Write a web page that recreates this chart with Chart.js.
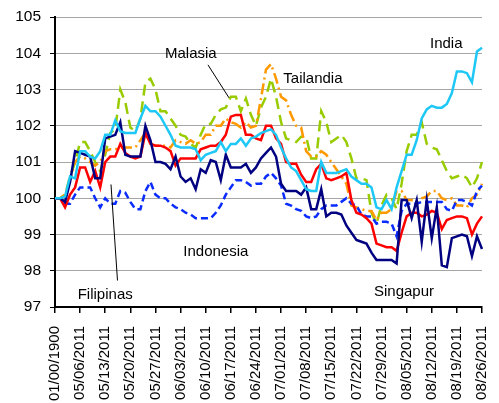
<!DOCTYPE html>
<html>
<head>
<meta charset="utf-8">
<script src="https://cdn.jsdelivr.net/npm/chart.js@4/dist/chart.umd.min.js"></script>
<style>
  html, body { margin: 0; padding: 0; background: #ffffff; }
  #wrap { width: 499px; height: 403px; }
</style>
</head>
<body>
<div id="wrap"><canvas id="chart" width="499" height="403"></canvas></div>
<script>
// Daily index levels (base = 100), business days 2 May – 26 Aug 2011,
// preceded by the base point.
const india = [100, 100, 100.05, 100.6, 100.55, 101.3, 101.3, 101.15, 101.1, 101.3,
  101.75, 101.75, 102.15, 101.85, 101.8, 101.8, 101.8, 102.2, 102.55, 102.4,
  102.4, 102.25, 102.0, 101.75, 101.45, 101.4, 101.4, 101.4, 101.35, 101.05,
  101.2, 101.25, 101.3, 101.55, 101.3, 101.5, 101.5, 101.65, 101.45, 101.65,
  101.7, 101.8, 101.85, 101.9, 101.75, 101.4, 101.1, 100.85, 100.75, 100.5,
  100.25, 100.2, 100.2, 101.0, 100.7, 100.7, 100.7, 100.75, 100.8, 100.6,
  100.5, 100.4, 100.4, 100.3, 99.75, 99.7, 99.95, 99.7, 100.3, 100.75,
  101.2, 101.2, 101.6, 102.2, 102.45, 102.55, 102.5, 102.5, 102.6, 102.9,
  103.5, 103.5, 103.45, 103.2, 104.05, 104.15];

const malasia = [100, 100, 100.1, 100.6, 101.0, 101.55, 101.55, 101.3, 101.0, 100.75,
  101.2, 101.8, 101.9, 103.0, 102.65, 101.95, 101.85, 102.2, 103.2, 103.3,
  103.0, 102.4, 102.4, 102.2, 102.0, 101.75, 101.7, 101.5, 101.4, 101.75,
  102.05, 102.05, 102.3, 102.45, 102.5, 102.8, 102.8, 102.4, 102.75, 102.3,
  102.0, 102.5, 102.8, 103.3, 102.8, 102.1, 101.65, 101.6, 101.55, 101.7,
  101.7, 101.1, 101.1, 102.4, 102.1, 101.55, 101.65, 101.75, 101.55, 101.1,
  100.55, 100.55, 100.5, 99.6, 99.3, 99.8, 100.1, 100.0, 99.7, 100.4,
  101.3, 101.75, 101.75, 102.1, 101.5, 101.4, 101.35, 101.05, 100.75, 100.55,
  100.6, 100.65, 100.55, 100.3, 100.55, 101.0];

const tailandia = [100, 100, 100.1, 100.5, 101.0, 101.15, 101.1, 101.0, 100.9, 101.0,
  101.3, 101.35, 101.35, 101.4, 101.4, 101.4, 101.4, 101.6, 101.8, 101.5,
  101.45, 101.45, 101.45, 101.4, 101.6, 101.55, 101.5, 101.6, 101.5, 101.55,
  101.75, 101.75, 102.0, 102.0, 102.2, 102.1, 102.05, 101.95, 102.1, 101.95,
  102.0, 102.75, 103.55, 103.7, 103.3, 102.8, 102.7, 102.3, 102.0, 101.95,
  101.3, 101.15, 101.15, 101.3, 101.2, 101.0, 100.8, 100.6, 100.4, 99.8,
  99.75, 99.7, 99.65, 99.65, 99.4, 99.6, 99.6, 99.7, 100.2, 100.2,
  99.95, 99.95, 99.9, 100.0, 100.05, 100.2, 100.2, 100.0, 99.95, 100.0,
  99.8, 99.8, 99.75, 100.0, 100.1, 100.4];

const indonesia = [100, 100, 99.85, 99.85, 100.1, 100.3, 100.3, 100.3, 100.0, 99.75,
  100.0, 99.85, 99.85, 100.2, 100.15, 99.9, 99.7, 99.7, 100.2, 100.45,
  100.1, 100.0, 100.0, 99.85, 99.75, 99.7, 99.6, 99.55, 99.45, 99.45,
  99.45, 99.45, 99.6, 99.8, 100.1, 100.3, 100.5, 100.5, 100.45, 100.35,
  100.4, 100.4, 100.6, 100.7, 100.55, 100.35, 99.85, 99.8, 99.7, 99.65,
  99.5, 99.45, 99.5, 99.7, 99.8, 99.8, 99.8, 99.9, 100.0, 99.85,
  99.8, 99.55, 99.5, 99.5, 99.3, 99.35, 99.35, 99.3, 98.95, 99.65,
  99.85, 99.85, 99.85, 99.9, 99.9, 99.9, 99.9, 99.9, 99.7, 99.65,
  99.95, 99.95, 99.9, 99.8, 100.2, 100.35];

const filipinas = [100, 100, 99.75, 100.1, 100.3, 100.85, 100.85, 100.45, 100.75, 100.3,
  101.0, 101.15, 101.15, 101.5, 101.25, 101.15, 101.1, 101.15, 101.8, 101.5,
  101.45, 101.45, 101.4, 101.3, 100.9, 101.1, 101.1, 101.1, 101.1, 101.35,
  101.4, 101.45, 101.45, 101.55, 101.75, 102.25, 102.3, 102.3, 101.75, 101.75,
  101.65, 101.6, 102.0, 102.0, 101.65, 101.5, 101.0, 100.95, 100.95, 100.65,
  100.45, 100.45, 100.8, 100.95, 100.55, 100.5, 100.55, 100.6, 100.7, 99.95,
  99.6, 99.55, 99.45, 99.3, 98.75, 98.7, 98.65, 98.65, 98.55, 99.05,
  99.5, 99.6, 99.6, 99.5, 99.55, 99.65, 99.6, 99.15, 99.4, 99.45,
  99.5, 99.5, 99.45, 99.0, 99.3, 99.5];

const singapur = [100, 100, 99.9, 100.45, 101.3, 101.25, 101.2, 101.15, 100.55, 100.55,
  101.65, 101.7, 101.75, 102.1, 101.2, 101.15, 101.15, 101.15, 102.0, 101.6,
  101.0, 101.0, 100.95, 100.8, 101.15, 100.6, 100.45, 100.55, 100.25, 100.8,
  100.7, 101.05, 101.0, 100.5, 101.2, 100.85, 100.85, 100.85, 100.95, 100.7,
  100.85, 101.1, 101.25, 101.4, 101.15, 100.4, 100.2, 100.2, 100.2, 100.1,
  100.3, 99.7, 99.7, 100.25, 99.5, 99.6, 99.6, 99.55, 99.25, 99.05,
  98.85, 98.8, 98.75, 98.5, 98.3, 98.3, 98.3, 98.3, 98.2, 99.95,
  99.95, 99.45, 99.95, 98.8, 99.95, 98.9, 99.75, 98.15, 98.1, 98.9,
  98.95, 99.0, 98.95, 98.4, 98.95, 98.6];

// Category labels: the empty base date, then every business day.
const baseLabel = '01/00/1900';
const firstDay = [2011, 5, 2];
const lastDay = [2011, 8, 26];
const labelEvery = 5;

function pad2(n) { return (n < 10 ? '0' : '') + n; }
const categories = [baseLabel];
(function () {
  const d = new Date(Date.UTC(firstDay[0], firstDay[1] - 1, firstDay[2]));
  const end = new Date(Date.UTC(lastDay[0], lastDay[1] - 1, lastDay[2]));
  while (d <= end) {
    const wd = d.getUTCDay();
    if (wd !== 0 && wd !== 6) {
      categories.push(pad2(d.getUTCMonth() + 1) + '/' + pad2(d.getUTCDate()) + '/' + d.getUTCFullYear());
    }
    d.setUTCDate(d.getUTCDate() + 1);
  }
})();

const FONT = "'Liberation Sans', Arial, sans-serif";

// Series names are written next to the lines; a few use a leader line.
// Positions are given in chart units (category index, index level).
const seriesNotes = [
  { text: 'India',     at: [74.65, 104.14] },
  { text: 'Malasia',   at: [21.9, 103.87], leader: [[30.45, 103.68], [34.64, 102.77]] },
  { text: 'Tailandia', at: [45.45, 103.18] },
  { text: 'Indonesia', at: [25.54, 98.41] },
  { text: 'Filipinas', at: [4.52, 97.21], leader: [[11.15, 100.38], [12.44, 97.73]] },
  { text: 'Singapur',  at: [63.5, 97.29] }
];

const notesPlugin = {
  id: 'seriesNotes',
  afterDatasetsDraw(chart) {
    const { ctx, scales: { x, y } } = chart;
    ctx.save();
    ctx.fillStyle = '#000';
    ctx.strokeStyle = '#000';
    ctx.lineWidth = 1;
    ctx.font = '15px ' + FONT;
    ctx.textAlign = 'left';
    ctx.textBaseline = 'alphabetic';
    seriesNotes.forEach(n => {
      ctx.fillText(n.text, x.getPixelForValue(n.at[0]), y.getPixelForValue(n.at[1]));
      if (n.leader) {
        ctx.beginPath();
        ctx.moveTo(x.getPixelForValue(n.leader[0][0]), y.getPixelForValue(n.leader[0][1]));
        ctx.lineTo(x.getPixelForValue(n.leader[1][0]), y.getPixelForValue(n.leader[1][1]));
        ctx.stroke();
      }
    });
    ctx.restore();
  }
};

function line(label, data, color, dash) {
  return {
    label, data,
    borderColor: color,
    backgroundColor: color,
    borderWidth: 2.5,
    borderDash: dash || [],
    pointRadius: 0,
    tension: 0,
    fill: false
  };
}

new Chart(document.getElementById('chart'), {
  type: 'line',
  data: {
    labels: categories,
    datasets: [
      line('India', india, '#1ec8f6'),
      line('Singapur', singapur, '#000080'),
      line('Filipinas', filipinas, '#ff0000'),
      line('Indonesia', indonesia, '#0a2cff', [7, 4]),
      line('Tailandia', tailandia, '#ff9900', [11, 4, 2, 4]),
      line('Malasia', malasia, '#99cc00', [11, 6])
    ]
  },
  options: {
    responsive: false,
    animation: false,
    devicePixelRatio: 1,
    layout: { padding: { top: 17, right: 17, left: 0, bottom: 0 } },
    plugins: {
      legend: { display: false },
      tooltip: { enabled: false }
    },
    scales: {
      x: {
        type: 'category',
        offset: false,
        border: { color: '#000', width: 2 },
        grid: {
          drawOnChartArea: false,
          drawTicks: true,
          tickLength: 6,
          lineWidth: 1.5,
          color: c => (c.index % labelEvery === 0 ? '#000' : 'rgba(0,0,0,0)'),
          tickColor: c => (c.index % labelEvery === 0 ? '#000' : 'rgba(0,0,0,0)')
        },
        ticks: {
          autoSkip: false,
          minRotation: 90,
          maxRotation: 90,
          padding: 13,
          color: '#000',
          font: { family: FONT, size: 15 },
          callback: (v, i) => (i % labelEvery === 0 ? categories[i] : '')
        },
        afterFit: s => {
          s.height = 96;
          s.paddingLeft = 0;
          s.paddingRight = 0;
        }
      },
      y: {
        min: 97,
        max: 105,
        border: { color: '#000', width: 2 },
        grid: {
          color: '#a6a6a6',
          lineWidth: 1,
          drawTicks: true,
          tickLength: 5,
          tickColor: '#000'
        },
        ticks: {
          stepSize: 1,
          padding: 9,
          color: '#000',
          font: { family: FONT, size: 15.5 }
        },
        afterFit: s => {
          s.width = 55;
          s.paddingTop = 0;
          s.paddingBottom = 0;
        }
      }
    }
  },
  plugins: [notesPlugin]
});
</script>
</body>
</html>
